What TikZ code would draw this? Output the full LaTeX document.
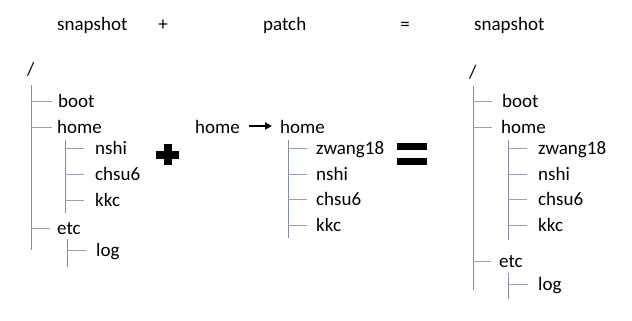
\documentclass[tikz,border=0pt]{standalone}
\usepackage{fontspec}
\setmainfont{Carlito}
\usetikzlibrary{arrows.meta}
\definecolor{vline}{RGB}{128,142,162}
\definecolor{tline}{RGB}{150,160,176}
\tikzset{
  lbl/.style={anchor=base west,inner sep=0pt,font=\fontsize{19}{22}\selectfont},
  ttl/.style={anchor=base,inner sep=0pt,font=\fontsize{19}{22}\selectfont},
  vbar/.style={draw=vline,line width=0.9pt},
  tick/.style={draw=tline,line width=0.9pt},
  bigsym/.style={fill=black,draw=none}
}
\begin{document}
\begin{tikzpicture}[x=1pt,y=-1pt]
\useasboundingbox (0,0) rectangle (632,321);
% titles
\node[lbl] (t1) at (57,31) {snapshot};
\node[ttl] (t2) at (163,31) {+};
\node[lbl] (t3) at (263,31) {patch};
\node[ttl] (t4) at (405,31) {=};
\node[lbl] (t5) at (474,31) {snapshot};

% ---------- left tree ----------
\node[lbl] (Lroot) at (27,75) {/};
\coordinate (Lv1) at (31,85); \coordinate (Lv2) at (31,250);
\draw[vbar] (Lv1) -- (Lv2);
\coordinate (Lboott) at (31,101); \coordinate (Lbootte) at (52,101);
\draw[tick] (Lboott) -- (Lbootte);
\node[lbl] (Lboot) at (58,107) {boot};
\coordinate (Lhomet) at (31,127); \coordinate (Lhomete) at (52,127);
\draw[tick] (Lhomet) -- (Lhomete);
\node[lbl] (Lhome) at (57,133) {home};
\coordinate (Lh1) at (65,140); \coordinate (Lh2) at (65,213);
\draw[vbar] (Lh1) -- (Lh2);
\foreach \y/\t/\n in {148/nshi/a,174/chsu6/b,200/kkc/c}{
  \coordinate (Lht\n) at (65,\y); \coordinate (Lhte\n) at (84,\y);
  \draw[tick] (Lht\n) -- (Lhte\n);
  \node[lbl] (Lhn\n) at (95,\y+6) {\t};
}
\coordinate (Letct) at (31,228); \coordinate (Letcte) at (50,228);
\draw[tick] (Letct) -- (Letcte);
\node[lbl] (Letc) at (57,234) {etc};
\coordinate (Le1) at (67,239); \coordinate (Le2) at (67,267);
\draw[vbar] (Le1) -- (Le2);
\coordinate (Llogt) at (67,250); \coordinate (Llogte) at (86,250);
\draw[tick] (Llogt) -- (Llogte);
\node[lbl] (Llog) at (96,256) {log};

% plus sign
\fill[bigsym] (163.5,144) rectangle (172,165);
\fill[bigsym] (156,151) rectangle (179,158.5);

% ---------- middle (patch) ----------
\node[lbl] (Mhome1) at (195,133) {home};
\node[lbl] (Mhome2) at (280,133) {home};
\draw[line width=2pt,-{Triangle[length=7pt,width=7pt]}] (Mhome1.east |- 0,126) ++(9,0) coordinate (Ma1) -- (272,126) coordinate (Ma2);
\coordinate (Mv1) at (288,140); \coordinate (Mv2) at (288,238);
\draw[vbar] (Mv1) -- (Mv2);
\foreach \y/\t/\n in {148/zwang18/a,174/nshi/b,199/chsu6/c,225/kkc/d}{
  \coordinate (Mt\n) at (288,\y); \coordinate (Mte\n) at (307,\y);
  \draw[tick] (Mt\n) -- (Mte\n);
  \node[lbl] (Mn\n) at (316,\y+6) {\t};
}

% equal sign
\fill[bigsym] (397,142.5) rectangle (427,150);
\fill[bigsym] (397,157.5) rectangle (427,165);

% ---------- right tree ----------
\node[lbl] (Rroot) at (469,78) {/};
\coordinate (Rv1) at (473,86); \coordinate (Rv2) at (473,290);
\draw[vbar] (Rv1) -- (Rv2);
\coordinate (Rboott) at (473,101); \coordinate (Rbootte) at (492,101);
\draw[tick] (Rboott) -- (Rbootte);
\node[lbl] (Rboot) at (502,107) {boot};
\coordinate (Rhomet) at (473,127); \coordinate (Rhomete) at (492,127);
\draw[tick] (Rhomet) -- (Rhomete);
\node[lbl] (Rhome) at (501,133) {home};
\coordinate (Rh1) at (508,140); \coordinate (Rh2) at (508,240);
\draw[vbar] (Rh1) -- (Rh2);
\foreach \y/\t/\n in {148/zwang18/a,174/nshi/b,199/chsu6/c,225/kkc/d}{
  \coordinate (Rht\n) at (508,\y); \coordinate (Rhte\n) at (527,\y);
  \draw[tick] (Rht\n) -- (Rhte\n);
  \node[lbl] (Rhn\n) at (538,\y+6) {\t};
}
\coordinate (Retct) at (473,261); \coordinate (Retcte) at (491,261);
\draw[tick] (Retct) -- (Retcte);
\node[lbl] (Retc) at (499,267) {etc};
\coordinate (Re1) at (508,273); \coordinate (Re2) at (508,299);
\draw[vbar] (Re1) -- (Re2);
\coordinate (Rlogt) at (508,284); \coordinate (Rlogte) at (528,284);
\draw[tick] (Rlogt) -- (Rlogte);
\node[lbl] (Rlog) at (538,290) {log};
\end{tikzpicture}
\end{document}
